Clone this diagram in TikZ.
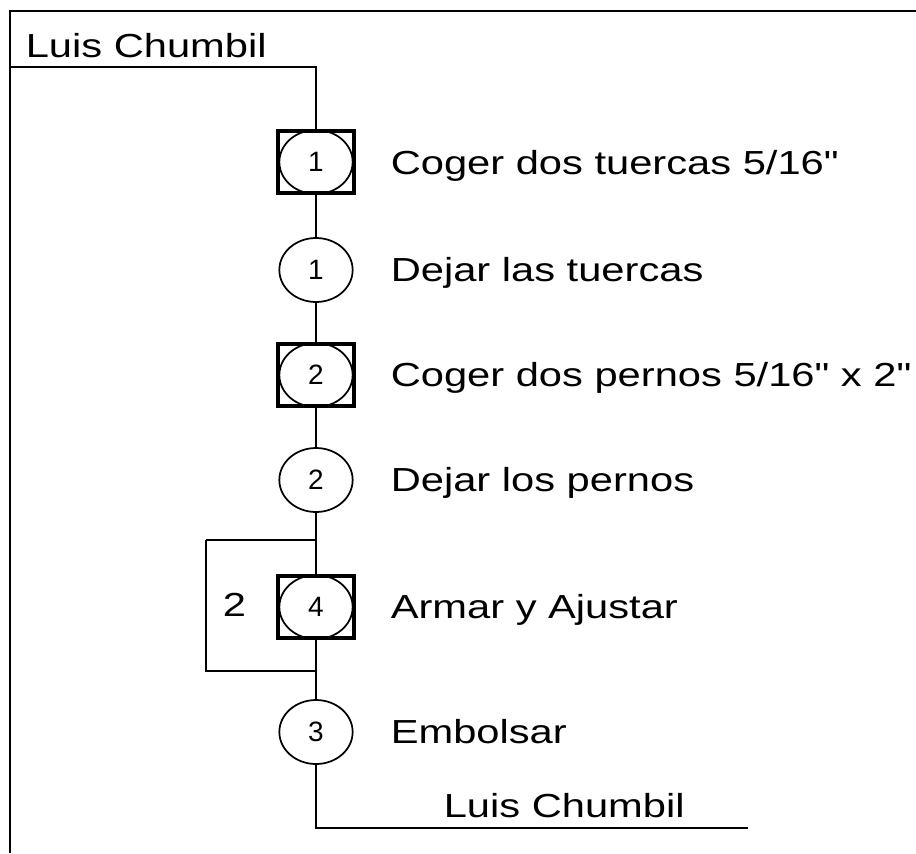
\documentclass[tikz,border=0pt]{standalone}
\usepackage{fontspec}
\setmainfont{Liberation Sans}
\usepackage{graphicx}
\usetikzlibrary{shapes.geometric}
\newcommand{\wide}[1]{\scalebox{1.25}[1]{#1}}

\tikzset{
opbox/.style={draw, line width=2.8pt, minimum width=57pt, minimum height=47pt, inner sep=0pt},
op/.style={draw, ellipse, line width=1.3pt, minimum width=55pt, minimum height=48pt, inner sep=0pt, font=\fontsize{21}{21}\selectfont},
lbl/.style={anchor=base west, inner sep=0pt, font=\fontsize{25}{25}\selectfont},
}

\begin{document}
\begin{tikzpicture}[x=0.75pt, y=-0.75pt, line width=1.2pt]
\useasboundingbox (0,0) rectangle (916,853);
% frame
\draw[line width=2pt] (916,11) -- (10,11) -- (10,853);

\coordinate (start) at (316,67);
\coordinate (edge) at (10,67);
\node[lbl] (who1) at (25,57) {\wide{Luis Chumbil}};

\node[opbox] (s1) at (316,162) {};
\node[op] (o1) at (s1) {1};
\node[op] (o2) at (316,270) {1};
\node[opbox] (s3) at (316,375) {};
\node[op] (o3) at (s3) {2};
\node[op] (o4) at (316,480) {2};
\node[opbox] (s5) at (316,607) {};
\node[op] (o5) at (s5) {4};
\node[op] (o6) at (316,732) {3};

\node[lbl] (t1) at (390,174) {\wide{Coger dos tuercas 5/16\textquotedbl}};
\node[lbl] (t2) at (390,281) {\wide{Dejar las tuercas}};
\node[lbl] (t3) at (390,386) {\wide{Coger dos pernos 5/16\textquotedbl{} x 2\textquotedbl}};
\node[lbl] (t4) at (390,491) {\wide{Dejar los pernos}};
\node[lbl] (t5) at (390,618) {\wide{Armar y Ajustar}};
\node[lbl] (t6) at (390,743) {\wide{Embolsar}};

% repeat loop
\coordinate (lt) at (316,540);
\coordinate (lb) at (316,671);
\coordinate (ll) at (206,540);
\node[lbl] (rep) at (222,616) {\wide{2}};

\coordinate (stop) at (316,828);
\coordinate (tail) at (748,828);
\node[lbl] (who2) at (443,817) {\wide{Luis Chumbil}};

\draw (edge) -- (start) -- (s1);
\draw (s1) -- (o2);
\draw (o2) -- (s3);
\draw (s3) -- (o4);
\draw (o4) -- (s5);
\draw (s5) -- (o6);
\draw (ll) -- (lt);
\draw (ll) |- (lb);
\draw (o6) -- (stop) -- (tail);
\end{tikzpicture}
\end{document}
